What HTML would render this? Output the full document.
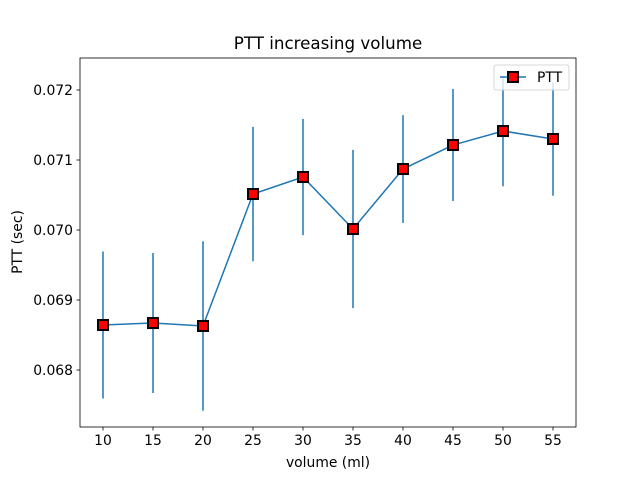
<!DOCTYPE html>
<html><head><meta charset="utf-8"><style>
body{margin:0;background:#fff;}
svg{font-family:"DejaVu Sans","Liberation Sans",sans-serif;}
</style></head><body>
<svg id="chart" width="640" height="480" xmlns="http://www.w3.org/2000/svg" style="position:absolute;left:0;top:0">
<rect width="640" height="480" fill="#fff"/>
</svg>
<script>
const categories=[10,15,20,25,30,35,40,45,50,55];
const ptt=[0.068643,0.068671,0.068629,0.070514,0.070757,0.070014,0.070871,0.071214,0.071414,0.0713];
const errs=[0.00105,0.0010,0.00121,0.00096,0.00083,0.00113,0.00077,0.0008,0.00079,0.00081];
const yTicks=[0.068,0.069,0.070,0.071,0.072];
const yTickLabels=["0.068","0.069","0.070","0.071","0.072"];
const xTicks=[10,15,20,25,30,35,40,45,50,55];

const L=80,R=576,T=58,B=427;
const xMin=7.7,xMax=57.3,yMin=0.067186,yMax=0.072457;
const sx=v=>L+(v-xMin)/(xMax-xMin)*(R-L);
const sy=v=>B-(v-yMin)/(yMax-yMin)*(B-T);
const NS="http://www.w3.org/2000/svg";
const svg=document.getElementById('chart');
function mk(tag,attrs,parent){const e=document.createElementNS(NS,tag);for(const k in attrs)e.setAttribute(k,attrs[k]);(parent||svg).appendChild(e);return e;}

categories.forEach((c,i)=>{
 const l=mk('line',{x1:sx(c),x2:sx(c),y1:sy(ptt[i]-errs[i]),y2:sy(ptt[i]+errs[i]),stroke:'#1f77b4','stroke-width':1.5});
 
 
});
const line=mk('polyline',{points:categories.map((c,i)=>sx(c)+','+sy(ptt[i])).join(' '),fill:'none',stroke:'#1f77b4','stroke-width':1.5});


categories.forEach((c,i)=>{
 const m=mk('rect',{x:sx(c)-5,y:sy(ptt[i])-5,width:10,height:10,fill:'#ff0000',stroke:'#000','stroke-width':2});
 
 
});
const frame=mk('rect',{x:L,y:T,width:R-L,height:B-T,fill:'none',stroke:'#000','stroke-width':0.8});


xTicks.forEach(v=>{
 const t=mk('line',{x1:sx(v),x2:sx(v),y1:B,y2:B+3.5,stroke:'#000','stroke-width':0.8});
 
 
 const tx=mk('text',{x:sx(v),y:B+18,'text-anchor':'middle','font-size':13.9});
 tx.textContent=v;
 
 
});
yTicks.forEach((v,i)=>{
 const t=mk('line',{x1:L-3.5,x2:L,y1:sy(v),y2:sy(v),stroke:'#000','stroke-width':0.8});
 
 
 const tx=mk('text',{x:L-7,y:sy(v)+5,'text-anchor':'end','font-size':13.9});
 tx.textContent=yTickLabels[i];
 
 
});
</script>
<svg style="position:absolute;left:0;top:0" width="640" height="480" xmlns="http://www.w3.org/2000/svg" font-family="DejaVu Sans, Liberation Sans, sans-serif">
<text x="328" y="49" text-anchor="middle" font-size="16.7">PTT increasing volume</text>
<text x="328" y="467" text-anchor="middle" font-size="13.9">volume (ml)</text>
<text x="22" y="242" text-anchor="middle" font-size="13.9" transform="rotate(-90 22 242)">PTT (sec)</text>
<g>
<rect x="494" y="65" width="75" height="25" rx="2" fill="#fff" fill-opacity="0.8" stroke="#ccc" stroke-width="0.8"/>
<line x1="500" x2="526" y1="77" y2="77" stroke="#1f77b4" stroke-width="1.5"/>
<rect x="508" y="72" width="10" height="10" fill="#ff0000" stroke="#000" stroke-width="2"/>
<text x="537" y="82" font-size="13.9">PTT</text>
</g>
</svg>
</body></html>
